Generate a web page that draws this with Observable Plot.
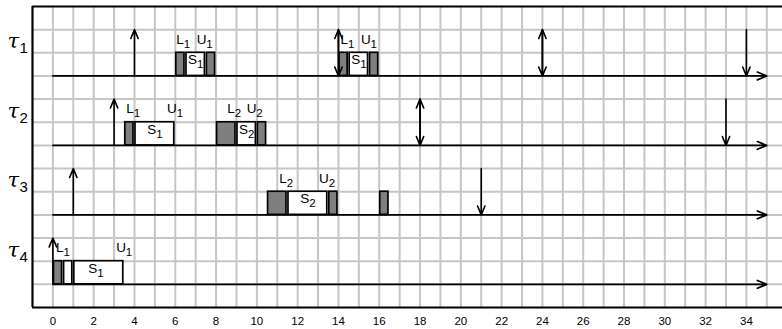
<!DOCTYPE html>
<html><head><meta charset="utf-8">
<script src="https://cdn.jsdelivr.net/npm/d3@7"></script>
<script src="https://cdn.jsdelivr.net/npm/@observablehq/plot@0.6"></script>
<style>body{margin:0;background:#fff}</style>
</head><body><div id="chart"></div>
<script>
// ---- data ----
const tickValues = [0,2,4,6,8,10,12,14,16,18,20,22,24,26,28,30,32,34];
const taskIds = [1,2,3,4];
const horizon = 35;
const releases = [{task:1,t:4},{task:2,t:3},{task:3,t:1},{task:4,t:0}];
const deadlines = [{task:1,t:34},{task:2,t:33},{task:3,t:21}];
const releaseDeadlines = [{task:1,t:14},{task:1,t:24},{task:2,t:18}];
const lockBlocks = [
  {task:1,start:6,end:6.5},{task:1,start:7.5,end:8},
  {task:1,start:14,end:14.5},{task:1,start:15.5,end:16},
  {task:2,start:3.5,end:4},{task:2,start:8,end:9},{task:2,start:10,end:10.5},
  {task:3,start:10.5,end:11.5},{task:3,start:13.5,end:14},{task:3,start:16,end:16.5},
  {task:4,start:0,end:0.5}
];
const sectionBlocks = [
  {task:1,start:6.5,end:7.5},{task:1,start:14.5,end:15.5},
  {task:2,start:4,end:6},{task:2,start:9,end:10},
  {task:3,start:11.5,end:13.5},
  {task:4,start:0.5,end:1},{task:4,start:1,end:3.5}
];
const sectionLabels = [
  {task:1,t:7,sub:"1"},{task:1,t:15,sub:"1"},
  {task:2,t:5,sub:"1"},{task:2,t:9.5,sub:"2"},
  {task:3,t:12.5,sub:"2"},{task:4,t:2.1,sub:"1"}
];
const lockLabels = [
  {task:1,letter:"L",sub:"1",t:6.05},{task:1,letter:"U",sub:"1",t:7.05},
  {task:1,letter:"L",sub:"1",t:14.1},{task:1,letter:"U",sub:"1",t:15.1},
  {task:2,letter:"L",sub:"1",t:3.6},{task:2,letter:"U",sub:"1",t:5.6},
  {task:2,letter:"L",sub:"2",t:8.55},{task:2,letter:"U",sub:"2",t:9.5},
  {task:3,letter:"L",sub:"2",t:11.1},{task:3,letter:"U",sub:"2",t:13.05},
  {task:4,letter:"L",sub:"1",t:0.15},{task:4,letter:"U",sub:"1",t:3.1}
];

// ---- layout helpers ----
const base = k => 3*k;
const sans = "Liberation Sans, Arial, sans-serif";
const grid = "#c6c6c6";
const arrowOpts = {stroke:"black", strokeWidth:1.6, headLength:9, headAngle:45};
const letterWidth = {L:7.5, U:9.6};

function subLabel(data, letter) {
  const d = data.filter(e => e.letter === letter);
  return [
    Plot.text(d, {x:"t", y: e => base(e.task) - 1.38, text:"letter", textAnchor:"start",
      lineAnchor:"bottom", fontSize:13.5, fontFamily:sans, fill:"black"}),
    Plot.text(d, {x:"t", y: e => base(e.task) - 1.38, text:"sub", textAnchor:"start",
      lineAnchor:"bottom", fontSize:11.5, fontFamily:sans, dx:letterWidth[letter], dy:4, fill:"black"})
  ];
}

const chart = Plot.plot({
  width:782, height:329,
  marginTop:6, marginBottom:22, marginLeft:32, marginRight:0,
  x:{domain:[-1,35.77], ticks:tickValues, tickSize:0, tickPadding:9, label:null},
  y:{domain:[0,13], reverse:true, axis:null},
  style:{fontFamily:sans, fontSize:"11.5px", background:"white", color:"black"},
  marks:[
    Plot.ruleX(d3.range(0, horizon + 1), {stroke:grid, strokeWidth:2}),
    Plot.ruleY(d3.range(1, 13), {stroke:grid, strokeWidth:2}),
    Plot.ruleY([0,13], {stroke:"black", strokeWidth:2}),
    Plot.ruleX([-1], {stroke:"black", strokeWidth:2.2}),
    // timelines
    Plot.arrow(taskIds, {x1:() => 0, x2:() => horizon, y1:base, y2:base, ...arrowOpts, strokeWidth:1.7}),
    // blocks
    Plot.rect(sectionBlocks, {x1:"start", x2:"end", y1:d => base(d.task) - 1, y2:d => base(d.task),
      fill:"white", stroke:"black", strokeWidth:1.7, insetLeft:1, insetRight:1}),
    Plot.rect(lockBlocks, {x1:"start", x2:"end", y1:d => base(d.task) - 1, y2:d => base(d.task),
      fill:"#7f7f7f", stroke:"black", strokeWidth:1.7, insetLeft:1, insetRight:1}),
    // release arrows (up)
    Plot.arrow(releases, {x1:"t", x2:"t", y1:d => base(d.task), y2:d => base(d.task) - 2, ...arrowOpts}),
    // deadline arrows (down)
    Plot.arrow(deadlines, {x1:"t", x2:"t", y1:d => base(d.task) - 2, y2:d => base(d.task), ...arrowOpts}),
    // double arrows
    Plot.arrow(releaseDeadlines, {x1:"t", x2:"t", y1:d => base(d.task), y2:d => base(d.task) - 2, ...arrowOpts}),
    Plot.arrow(releaseDeadlines, {x1:"t", x2:"t", y1:d => base(d.task) - 2, y2:d => base(d.task), ...arrowOpts}),
    // section labels
    Plot.text(sectionLabels, {x:"t", y:d => base(d.task) - 0.5, text:() => "S", textAnchor:"start",
      lineAnchor:"bottom", fontSize:13.5, fontFamily:sans, dx:-7.6, fill:"black"}),
    Plot.text(sectionLabels, {x:"t", y:d => base(d.task) - 0.5, text:"sub", textAnchor:"start",
      lineAnchor:"bottom", fontSize:11.5, fontFamily:sans, dx:1.4, dy:4, fill:"black"}),
    ...subLabel(lockLabels, "L"),
    ...subLabel(lockLabels, "U"),
    // task labels
    Plot.text(taskIds, {y:k => base(k) - 1.2, text:() => "τ", frameAnchor:"left", textAnchor:"start",
      lineAnchor:"bottom", dx:-25, fontSize:21, fontFamily:"DejaVu Serif", fontStyle:"italic", fill:"black"}),
    Plot.text(taskIds, {y:k => base(k) - 1.2, text:k => String(k), frameAnchor:"left", textAnchor:"start",
      lineAnchor:"bottom", dx:-13, dy:5, fontSize:15, fontFamily:sans, fill:"black"})
  ]
});
document.getElementById("chart").appendChild(chart);
</script>
</body></html>
